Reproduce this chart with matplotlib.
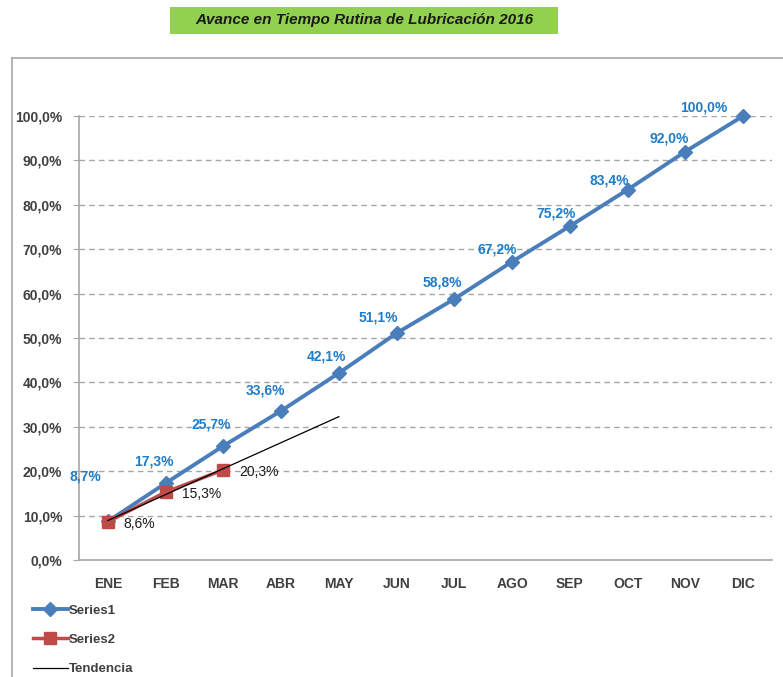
import numpy as np
import matplotlib.pyplot as plt
from matplotlib.patches import Rectangle
from matplotlib.lines import Line2D

plt.rcParams['font.family'] = ['Liberation Sans', 'DejaVu Sans']

months = ['ENE', 'FEB', 'MAR', 'ABR', 'MAY', 'JUN', 'JUL', 'AGO', 'SEP', 'OCT', 'NOV', 'DIC']
series1 = [8.7, 17.3, 25.7, 33.6, 42.1, 51.1, 58.8, 67.2, 75.2, 83.4, 92.0, 100.0]
series2 = [8.6, 15.3, 20.3]
trend_months = 5  # trend drawn from ENE to MAY

# label offsets (pixels) for Series1 labels, as placed in the original
s1_offsets = [(-22, 45), (-12, 22), (-12, 21), (-16, 20), (-12, 17), (-18, 16),
              (-12, 16), (-15, 12), (-14, 13), (-18, 9), (-16, 13), (-39, 9)]

c_s1 = '#4A7EBB'
c_s1_lab = '#1F7CC8'
c_s2 = '#BE4B48'
c_grid = '#A6A6A6'
c_txt = '#404040'

fig = plt.figure(figsize=(7.83, 6.77), dpi=100)
W, H = 783, 677

# outer chart border
fig.add_artist(Line2D([12 / W, 12 / W], [0, 1 - 58 / H], color=c_grid, lw=1.2))
fig.add_artist(Line2D([12 / W, 1], [1 - 58 / H, 1 - 58 / H], color=c_grid, lw=1.2))

# title box
fig.add_artist(Rectangle((170 / W, 1 - 34 / H), 388 / W, 27 / H, facecolor='#92D050',
                         edgecolor='none', transform=fig.transFigure))
fig.text(364 / W, 1 - 20 / H, 'Avance en Tiempo Rutina de Lubricación 2016',
         ha='center', va='center', fontsize=11, fontweight='bold', style='italic',
         color='#1a1a1a')

ax = fig.add_axes([79 / W, 1 - 560 / H, (772 - 79) / W, (560 - 116) / H])
x = np.arange(len(months))
x2 = np.arange(len(series2))

ax.plot(x, series1, color=c_s1, lw=2.8, marker='D', markersize=7.5, clip_on=False,
        zorder=4, label='Series1')
ax.plot(x2, series2, color=c_s2, lw=2.5, marker='s', markersize=9, clip_on=False,
        zorder=5, label='Series2')

coef = np.polyfit(x2, series2, 1)
xt = np.arange(trend_months)
ax.plot(xt, np.polyval(coef, xt), color='black', lw=0.9, zorder=6, label='Tendencia')

for xi, v, off in zip(x, series1, s1_offsets):
    ax.annotate('{:.1f}%'.format(v).replace('.', ','), (xi, v), xytext=off,
                textcoords='offset pixels', ha='center', va='center', fontsize=10,
                fontweight='bold', color=c_s1_lab, zorder=7)
for xi, v in zip(x2, series2):
    ax.annotate('{:.1f}%'.format(v).replace('.', ','), (xi, v), xytext=(16, -2),
                textcoords='offset pixels', ha='left', va='center', fontsize=10,
                color='#1a1a1a', zorder=7)

ax.set_xlim(-0.5, 11.5)
ax.set_ylim(0, 100)
ax.set_yticks(np.arange(0, 101, 10))
ax.set_yticklabels(['{:.1f}%'.format(t).replace('.', ',') for t in np.arange(0, 101, 10)])
ax.set_xticks(x)
ax.set_xticklabels(months)
ax.tick_params(axis='y', length=4, color=c_grid, pad=8, labelsize=10, labelcolor=c_txt)
ax.tick_params(axis='x', length=0, pad=12, labelsize=10, labelcolor=c_txt)
for lab in ax.get_xticklabels() + ax.get_yticklabels():
    lab.set_fontweight('bold')

ax.yaxis.grid(True, color=c_grid, ls=(0, (4, 3)), lw=1)
ax.set_axisbelow(True)
for s in ['top', 'right']:
    ax.spines[s].set_visible(False)
for s in ['left', 'bottom']:
    ax.spines[s].set_color(c_grid)
    ax.spines[s].set_linewidth(1.2)

leg = fig.legend(loc='upper left', bbox_to_anchor=(28 / W, 1 - 599 / H), frameon=False,
                 fontsize=9.5, handlelength=2.6, handletextpad=0.1, labelspacing=1.3,
                 borderaxespad=0)
for t in leg.get_texts():
    t.set_fontweight('bold')
    t.set_color(c_txt)

fig.savefig('out.png', dpi=100)
